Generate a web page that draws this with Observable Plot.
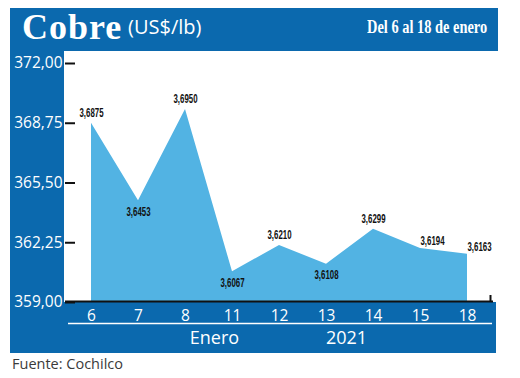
<!DOCTYPE html>
<html>
<head>
<meta charset="utf-8">
<script src="https://cdn.jsdelivr.net/npm/d3@7"></script>
<script src="https://cdn.jsdelivr.net/npm/@observablehq/plot@0.6"></script>
<style>
  html, body { margin: 0; padding: 0; background: #fff; }
  #card { position: relative; width: 520px; height: 378px; overflow: hidden; font-family: "Open Sans", sans-serif; }
  .blue { position: absolute; background: #0b69ae; }
  #header { left: 10px; top: 8px; width: 488px; height: 43px; }
  #body { left: 10px; top: 51px; width: 486px; height: 302px; }
  #paper { position: absolute; left: 64px; top: 51px; width: 432px; height: 251px; background: #fff; }
  #chart { position: absolute; left: 10px; top: 51px; }
  .t { position: absolute; color: #fff; white-space: nowrap; line-height: 1; }
  #t1 { left: 12px; top: 1px; font-family: "Liberation Serif", serif; font-weight: bold; font-size: 36px; letter-spacing: 1px; }
  #t2 { left: 118px; top: 9px; font-family: "Open Sans", sans-serif; font-size: 20px; }
  #t3 { right: 11px; top: 10px; font-family: "Liberation Serif", serif; font-weight: bold; font-size: 18px; transform: scaleX(0.8); transform-origin: right center; }
  #foot { position: absolute; left: 12px; top: 357px; font-size: 14.5px; color: #3a3a3a; line-height: 1; }
</style>
</head>
<body>
<div id="card">
  <div class="blue" id="header">
    <span class="t" id="t1">Cobre</span>
    <span class="t" id="t2">(US$/lb)</span>
    <span class="t" id="t3">Del 6 al 18 de enero</span>
  </div>
  <div class="blue" id="body"></div>
  <div id="paper"></div>
  <div id="chart"></div>
  <div id="foot">Fuente: Cochilco</div>
</div>
<script>
const days = ["6", "7", "8", "11", "12", "13", "14", "15", "18"];
const prices = [3.6875, 3.6453, 3.6950, 3.6067, 3.6210, 3.6108, 3.6299, 3.6194, 3.6163];
const yTicks = [359, 362.25, 365.5, 368.75, 372];
const periodLabels = ["Enero", "2021"];
const periodAnchors = ["8", "13"];

const data = days.map((day, i) => ({day, price: prices[i], cents: prices[i] * 100}));
const n = data.length;
const isMin = (i) => i > 0 && i < n - 1 && data[i].cents < data[i - 1].cents && data[i].cents < data[i + 1].cents;
const isRight = (i) => !isMin(i) && i > 0 && data[i - 1].cents > data[i].cents;
const below = data.filter((d, i) => isMin(i));
const right = data.filter((d, i) => isRight(i));
const above = data.filter((d, i) => !isMin(i) && !isRight(i));

const fmt4 = d => d.price.toFixed(4).replace(".", ",");
const fmt2 = d => d.toFixed(2).replace(".", ",");
const labelFont = {fontFamily: "'Liberation Sans', sans-serif", fontWeight: "bold", fontSize: 12, fill: "#111"};

const chart = Plot.plot({
  width: 486,
  height: 302,
  marginLeft: 55,
  marginRight: 3,
  marginTop: 12,
  marginBottom: 51,
  style: {background: "transparent", fontFamily: "'Open Sans', sans-serif", fontSize: "15px", overflow: "visible"},
  x: {type: "point", domain: days, padding: 0.5},
  y: {domain: [yTicks[0], yTicks[yTicks.length - 1]]},
  marks: [
    Plot.areaY(data, {x: "day", y1: () => yTicks[0], y2: "cents", fill: "#52b3e3"}),
    Plot.ruleY([yTicks[0]], {stroke: "#111", strokeWidth: 2, dy: -1}),
    Plot.ruleX([days[n - 1]], {y1: yTicks[0], y2: yTicks[0], dx: 23, stroke: "#111", strokeWidth: 2, insetTop: -7}),
    Plot.axisY({ticks: yTicks, tickFormat: fmt2, tickSize: 0, tickPadding: 3, fill: "white", fontSize: 15.5, label: null}),
    Plot.axisY({ticks: yTicks, tickFormat: () => "", tickSize: 10, dx: 10, stroke: "#111", strokeWidth: 2, label: null, line: true}),
    Plot.axisX({tickSize: 0, tickPadding: 7, fill: "white", fontSize: 15.5, label: null}),
    Plot.ruleY([yTicks[0]], {stroke: "white", strokeWidth: 1.5, dy: 21, insetLeft: 3, insetRight: 1}),
    Plot.text([periodLabels[0]], {x: () => periodAnchors[0], text: d => d, frameAnchor: "bottom", dy: 41, dx: 29, fill: "white", fontSize: 18}),
    Plot.text([periodLabels[1]], {x: () => periodAnchors[1], text: d => d, frameAnchor: "bottom", dy: 41, dx: 20, fill: "white", fontSize: 18}),
    Plot.text(above, {x: "day", y: "cents", text: fmt4, dy: -10, ...labelFont}),
    Plot.text(below, {x: "day", y: "cents", text: fmt4, dy: 11, ...labelFont}),
    Plot.text(right, {x: "day", y: "cents", text: fmt4, dy: -7, dx: 12, ...labelFont})
  ]
});
// condense the value labels like the original narrow typeface
chart.querySelectorAll("text").forEach(t => {
  if (/^\d,\d{4}$/.test(t.textContent)) {
    t.setAttribute("textLength", "24");
    t.setAttribute("lengthAdjust", "spacingAndGlyphs");
  }
});
document.getElementById("chart").appendChild(chart);
</script>
</body>
</html>
